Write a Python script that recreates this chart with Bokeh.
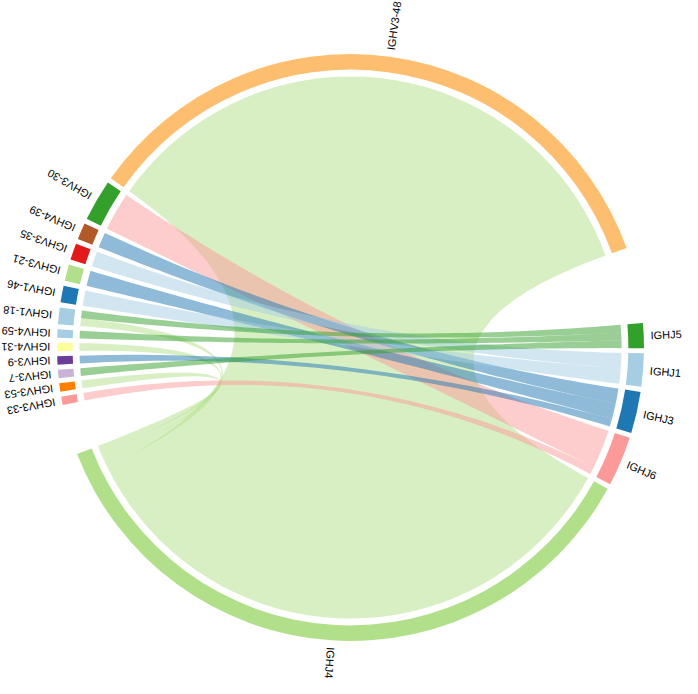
import numpy as np
from bokeh.plotting import figure
from bokeh.models import ColumnDataSource
from bokeh.core.properties import value
from bokeh.embed import file_html
from bokeh.resources import INLINE

# ---- data ----
v_genes = ["IGHV3-48", "IGHV3-30", "IGHV4-39", "IGHV3-35", "IGHV3-21", "IGHV1-46",
           "IGHV1-18", "IGHV4-59", "IGHV4-31", "IGHV3-9", "IGHV3-7", "IGHV3-53", "IGHV3-33"]
j_genes = ["IGHJ4", "IGHJ6", "IGHJ3", "IGHJ1", "IGHJ5"]

v_colors = ["#FDBF6F", "#33A02C", "#B15928", "#E31A1C", "#B2DF8A", "#1F78B4",
            "#A6CEE3", "#A6CEE3", "#FFFF99", "#6A3D9A", "#CAB2D6", "#FF7F00", "#FB9A99"]
j_colors = ["#B2DF8A", "#FB9A99", "#1F78B4", "#A6CEE3", "#33A02C"]

link_from = ["IGHV3-48", "IGHV3-30", "IGHV4-39", "IGHV3-35", "IGHV3-21", "IGHV1-46",
             "IGHV1-18", "IGHV1-18", "IGHV4-59", "IGHV4-31", "IGHV3-9", "IGHV3-7",
             "IGHV3-53", "IGHV3-33"]
link_to = ["IGHJ4", "IGHJ6", "IGHJ3", "IGHJ1", "IGHJ3", "IGHJ1",
           "IGHJ5", "IGHJ4", "IGHJ5", "IGHJ4", "IGHJ3", "IGHJ5",
           "IGHJ4", "IGHJ6"]
link_value = [76, 5, 2, 2, 2, 2, 1, 1, 1, 1, 1, 1, 1, 1]

# ---- layout (pixel units, 1 data unit = 1 px) ----
S = 0.975
R_OUT, R_IN, R_CH, R_LAB = 301 * S, 285 * S, 278 * S, 308 * S
START_DEG = 19.8
GAP_SMALL, GAP_LEFT, GAP_RIGHT = 1.0, 10.0, 15.0

sectors = v_genes + j_genes
colors = dict(zip(sectors, v_colors + j_colors))
totals = {s: 0.0 for s in sectors}
for f, t, v in zip(link_from, link_to, link_value):
    totals[f] += v
    totals[t] += v
gaps = []
for s in sectors:
    if s == v_genes[-1]:
        gaps.append(GAP_LEFT)
    elif s == j_genes[-1]:
        gaps.append(GAP_RIGHT)
    else:
        gaps.append(GAP_SMALL)
unit = (360.0 - sum(gaps)) / sum(totals.values())

start, end = {}, {}
a = START_DEG
for s, g in zip(sectors, gaps):
    start[s] = a
    end[s] = a + totals[s] * unit
    a = end[s] + g
mid = {s: (start[s] + end[s]) / 2 for s in sectors}

# place links within sectors (nested order, to reduce crossing)
link_pos = {}
for s in sectors:
    idx = [i for i in range(len(link_from)) if link_from[i] == s or link_to[i] == s]
    def other(i):
        return link_to[i] if link_from[i] == s else link_from[i]
    idx.sort(key=lambda i: -((mid[other(i)] - mid[s]) % 360))
    pos = start[s]
    for i in idx:
        w = link_value[i] * unit
        link_pos[(i, s)] = (pos, pos + w)
        pos += w


def arc(r, a0, a1, n=40):
    t = np.radians(np.linspace(a0, a1, n))
    return r * np.cos(t), r * np.sin(t)


def bez(p0, p2, n=60):
    t = np.linspace(0, 1, n)[:, None]
    c = np.array([0.0, 0.0])
    pts = (1 - t) ** 2 * np.array(p0) + 2 * (1 - t) * t * c + t ** 2 * np.array(p2)
    return pts[:, 0], pts[:, 1]


def pt(r, ang):
    return (r * np.cos(np.radians(ang)), r * np.sin(np.radians(ang)))


xs, ys, fc = [], [], []
for i in range(len(link_from)):
    a1, a2 = link_pos[(i, link_from[i])]
    b1, b2 = link_pos[(i, link_to[i])]
    x1, y1 = arc(R_CH, a1, a2)
    x2, y2 = bez(pt(R_CH, a2), pt(R_CH, b1))
    x3, y3 = arc(R_CH, b1, b2)
    x4, y4 = bez(pt(R_CH, b2), pt(R_CH, a1))
    xs.append(np.concatenate([x1, x2, x3, x4]).tolist())
    ys.append(np.concatenate([y1, y2, y3, y4]).tolist())
    fc.append(colors[link_to[i]])

W, H = 682, 678
CX, CY = 350, 347
p = figure(width=W, height=H, output_backend="svg", toolbar_location=None,
           x_range=(-CX, W - CX), y_range=(CY - H, CY),
           x_axis_type=None, y_axis_type=None, min_border=0)
p.outline_line_color = None
p.xgrid.visible = False
p.ygrid.visible = False

p.patches(xs=xs, ys=ys, fill_color=fc, fill_alpha=0.5, line_color=None)

src = ColumnDataSource(dict(
    x=[0] * len(sectors), y=[0] * len(sectors),
    s=[np.radians(start[s]) for s in sectors],
    e=[np.radians(end[s]) for s in sectors],
    c=[colors[s] for s in sectors]))
p.annular_wedge(x="x", y="y", inner_radius=R_IN, outer_radius=R_OUT,
                start_angle="s", end_angle="e", fill_color="c", line_color=None,
                direction="anticlock", source=src)

lab = ColumnDataSource(dict(
    x=[R_LAB * np.cos(np.radians(mid[s])) for s in sectors],
    y=[R_LAB * np.sin(np.radians(mid[s])) for s in sectors],
    t=sectors,
    ang=[np.radians(mid[s]) for s in sectors]))
p.text(x="x", y="y", text="t", angle="ang", source=lab,
       text_align="left", text_baseline="middle",
       text_font=value("Liberation Sans"), text_font_size="11px", text_color="black")

open("out.html", "w").write(file_html(p, INLINE))
